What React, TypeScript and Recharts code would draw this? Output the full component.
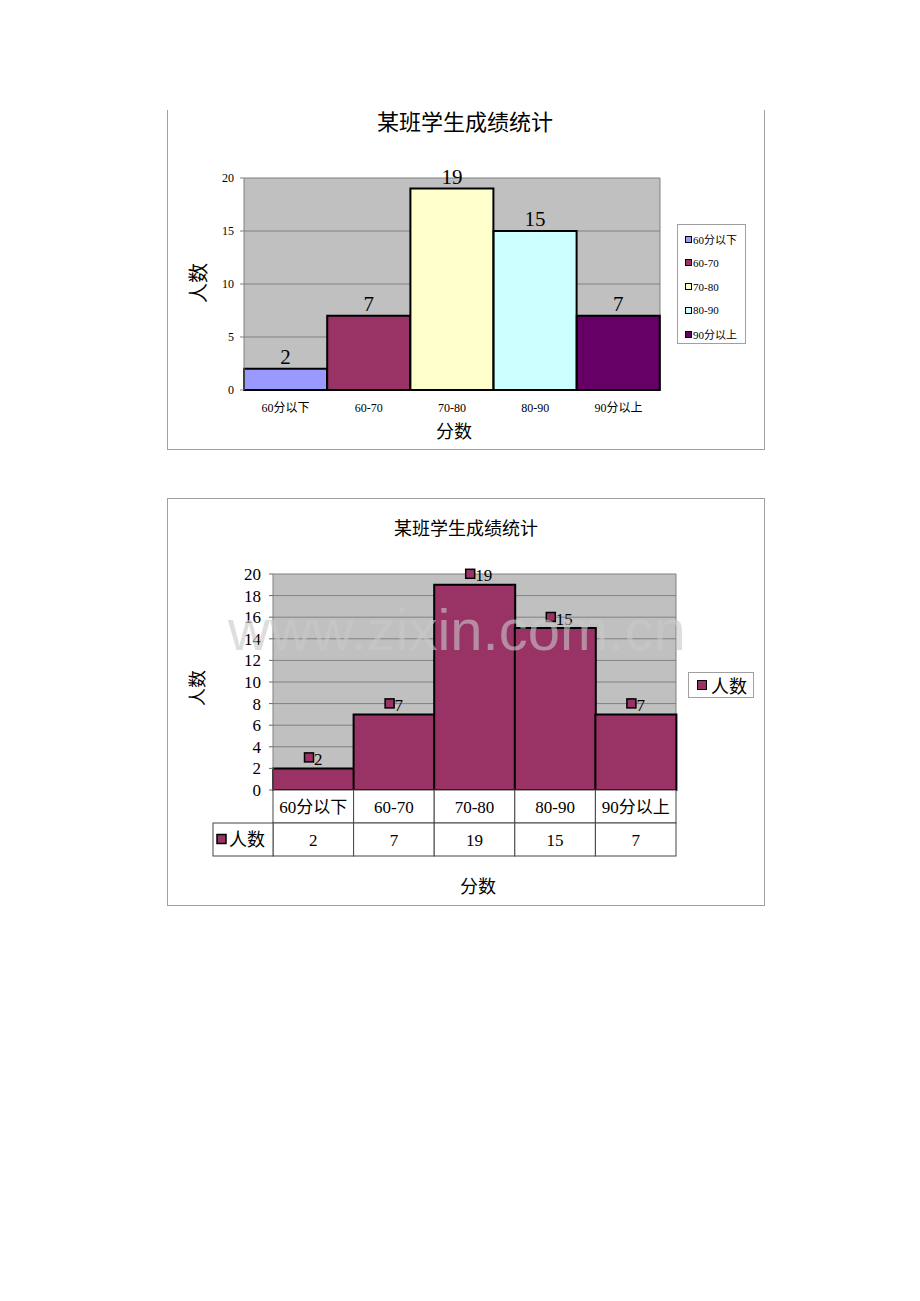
import React from 'react';
import { BarChart, Bar, XAxis, YAxis, CartesianGrid, Cell, LabelList } from 'recharts';

const categories = ['60分以下', '60-70', '70-80', '80-90', '90分以上'];
const counts = [2, 7, 19, 15, 7];
const barColors = ['#9999FF', '#993366', '#FFFFCC', '#CCFFFF', '#660066'];
const yTicksTop = [0, 5, 10, 15, 20];
const yTicksBottom = [0, 2, 4, 6, 8, 10, 12, 14, 16, 18, 20];
const seriesName = '人数';
const chartTitle = '某班学生成绩统计';
const xAxisTitle = '分数';
const yAxisTitle = '人数';
const watermark = 'www.zixin.com.cn';
const seriesColor = '#993366';

const data = categories.map((c, i) => ({ category: c, count: counts[i] }));

const SERIF = "'Liberation Serif', 'Noto Sans CJK SC', serif";
const CJK = "'Noto Sans CJK SC', 'Liberation Serif', serif";
const FRAME = '#a0a0a0';

// chart 2 geometry
const C2_W = 598;
const C2_H = 408;
const C2_M = { top: 76, right: 89, bottom: 36, left: 56 };
const C2_YW = 50;
const C2_XH = 80;
const C2_PLOT_W = C2_W - C2_M.left - C2_YW - C2_M.right;
const ROW_H = 33;
const HEAD_W = 60;

const TableTick = (props: any) => {
  const { x, y, payload, index } = props;
  const bw = C2_PLOT_W / categories.length;
  const left = x - bw / 2;
  const i = categories.indexOf(payload.value);
  const val = counts[i >= 0 ? i : index];
  return (
    <g>
      <rect x={left} y={y} width={bw} height={ROW_H} fill="#fff" stroke="#444" strokeWidth={1} />
      <rect x={left} y={y + ROW_H} width={bw} height={ROW_H} fill="#fff" stroke="#444" strokeWidth={1} />
      <text x={x} y={y + ROW_H / 2 + 6} textAnchor="middle" fontSize={17} fontFamily={SERIF} fill="#000">
        {payload.value}
      </text>
      <text x={x} y={y + ROW_H * 1.5 + 6} textAnchor="middle" fontSize={17} fontFamily={SERIF} fill="#000">
        {val}
      </text>
      {i === 0 && (
        <g>
          <rect x={left - HEAD_W} y={y + ROW_H} width={HEAD_W} height={ROW_H} fill="#fff" stroke="#444" strokeWidth={1} />
          <rect x={left - HEAD_W + 4} y={y + ROW_H * 1.5 - 5} width={9} height={9} fill={seriesColor} stroke="#000" strokeWidth={1.5} />
          <text x={left - HEAD_W + 16} y={y + ROW_H * 1.5 + 6} fontSize={18} fontFamily={CJK} fill="#000">
            {seriesName}
          </text>
        </g>
      )}
    </g>
  );
};

const MarkerLabel = (props: any) => {
  const { x, y, width, value } = props;
  const cx = x + width / 2;
  return (
    <g>
      <rect x={cx - 9} y={y - 15.5} width={9} height={9} fill={seriesColor} stroke="#000" strokeWidth={1.5} />
      <text x={cx + 0.5} y={y - 3.5} fontSize={17} fontFamily={SERIF} fill="#000">
        {value}
      </text>
    </g>
  );
};

const Txt = ({ cx, cy, size, text, rotate }: any) => (
  <div
    style={{
      position: 'absolute',
      left: cx - 150,
      top: cy - size / 2,
      width: 300,
      height: size,
      lineHeight: `${size}px`,
      fontSize: size,
      textAlign: 'center',
      fontFamily: CJK,
      color: '#000',
      transform: rotate ? 'rotate(-90deg)' : undefined,
      whiteSpace: 'nowrap',
    }}
  >
    {text}
  </div>
);

export default function App() {
  return (
    <div style={{ position: 'absolute', left: 0, top: 0, width: 920, height: 1301, background: '#fff', overflow: 'hidden' }}>
      {/* Chart 1 frame */}
      <div
        style={{
          position: 'absolute',
          left: 167,
          top: 110,
          width: 598,
          height: 340,
          boxSizing: 'border-box',
          borderLeft: `1px solid ${FRAME}`,
          borderRight: `1px solid ${FRAME}`,
          borderBottom: `1px solid ${FRAME}`,
        }}
      />
      <div style={{ position: 'absolute', left: 167, top: 110 }}>
        <BarChart width={598} height={340} data={data} margin={{ top: 68, right: 105, bottom: 30, left: 37 }} barCategoryGap={0} barGap={0}>
          <CartesianGrid
            fill="#C0C0C0"
            fillOpacity={1}
            stroke="#808080"
            verticalCoordinatesGenerator={({ offset }: any) => [offset.left + offset.width]}
          />
          <XAxis
            dataKey="category"
            height={30}
            tickLine={false}
            tickSize={0}
            tickMargin={13}
            interval={0}
            axisLine={{ stroke: '#000', strokeWidth: 2 }}
            tick={{ fontSize: 12, fill: '#000', fontFamily: SERIF }}
          />
          <YAxis
            width={40}
            domain={[0, 20]}
            ticks={yTicksTop}
            interval={0}
            tickSize={4}
            tickMargin={6}
            axisLine={{ stroke: '#808080' }}
            tickLine={{ stroke: '#808080' }}
            tick={{ fontSize: 12, fill: '#000', fontFamily: SERIF }}
          />
          <Bar dataKey="count" isAnimationActive={false} stroke="#000" strokeWidth={2}>
            {data.map((d, i) => (
              <Cell key={d.category} fill={barColors[i]} />
            ))}
            <LabelList dataKey="count" position="top" offset={5} fill="#000" fontSize={21} fontFamily={SERIF} />
          </Bar>
        </BarChart>
      </div>
      <Txt cx={465} cy={120} size={22} text={chartTitle} />
      <Txt cx={198} cy={283} size={20} text={yAxisTitle} rotate />
      <Txt cx={454} cy={430} size={18} text={xAxisTitle} />
      {/* Legend 1 */}
      <div
        style={{
          position: 'absolute',
          left: 677,
          top: 224,
          width: 69,
          height: 120,
          boxSizing: 'border-box',
          border: `1px solid ${FRAME}`,
          background: '#fff',
        }}
      >
        {categories.map((c, i) => (
          <div key={c} style={{ position: 'absolute', left: 7, top: 6 + i * 23.8, height: 16, display: 'flex', alignItems: 'center' }}>
            <div style={{ width: 7, height: 7, boxSizing: 'border-box', border: '1px solid #000', background: barColors[i] }} />
            <span style={{ fontSize: 11, fontFamily: SERIF, marginLeft: 1, color: '#000', whiteSpace: 'nowrap' }}>{c}</span>
          </div>
        ))}
      </div>

      {/* Chart 2 frame */}
      <div
        style={{
          position: 'absolute',
          left: 167,
          top: 498,
          width: 598,
          height: 408,
          boxSizing: 'border-box',
          border: `1px solid ${FRAME}`,
        }}
      />
      <div style={{ position: 'absolute', left: 167, top: 498 }}>
        <BarChart width={C2_W} height={C2_H} data={data} margin={C2_M} barCategoryGap={0} barGap={0}>
          <CartesianGrid
            fill="#C0C0C0"
            fillOpacity={1}
            stroke="#808080"
            verticalCoordinatesGenerator={({ offset }: any) => [offset.left + offset.width]}
          />
          <XAxis
            dataKey="category"
            height={C2_XH}
            tickLine={false}
            tickSize={0}
            tickMargin={0}
            interval={0}
            axisLine={{ stroke: '#000', strokeWidth: 2 }}
            tick={<TableTick />}
          />
          <YAxis
            width={C2_YW}
            domain={[0, 20]}
            ticks={yTicksBottom}
            interval={0}
            tickSize={4}
            tickMargin={8}
            axisLine={{ stroke: '#808080' }}
            tickLine={{ stroke: '#666' }}
            tick={{ fontSize: 17, fill: '#000', fontFamily: SERIF }}
          />
          <Bar dataKey="count" name={seriesName} isAnimationActive={false} fill={seriesColor} stroke="#000" strokeWidth={2}>
            <LabelList dataKey="count" content={<MarkerLabel />} />
          </Bar>
        </BarChart>
      </div>
      <Txt cx={466} cy={527} size={18} text={chartTitle} />
      <Txt cx={196} cy={688} size={18} text={yAxisTitle} rotate />
      <Txt cx={478} cy={885} size={18} text={xAxisTitle} />
      {/* Legend 2 */}
      <div
        style={{
          position: 'absolute',
          left: 688,
          top: 672,
          width: 66,
          height: 26,
          boxSizing: 'border-box',
          border: `1px solid ${FRAME}`,
          background: '#fff',
          display: 'flex',
          alignItems: 'center',
        }}
      >
        <div style={{ marginLeft: 8, width: 10, height: 10, boxSizing: 'border-box', border: '1.5px solid #000', background: seriesColor }} />
        <span style={{ marginLeft: 4, fontSize: 18, lineHeight: '20px', fontFamily: CJK, color: '#000' }}>{seriesName}</span>
      </div>
      {/* watermark */}
      <svg width={920} height={1301} style={{ position: 'absolute', left: 0, top: 0, pointerEvents: 'none' }}>
        <text x={228} y={650} fontSize={58} fontFamily="'Liberation Sans', Arial, sans-serif" fill="#c8c8c8" fillOpacity={0.6}>
          {watermark}
        </text>
      </svg>
    </div>
  );
}
